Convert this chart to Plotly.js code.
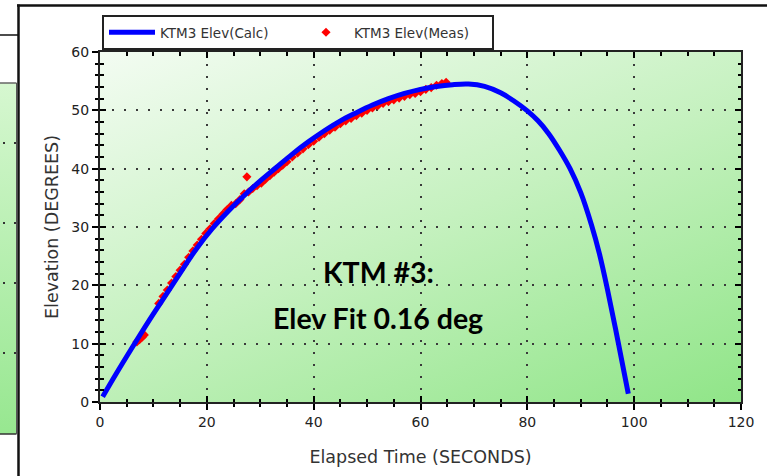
<!DOCTYPE html>
<html>
<head>
<meta charset="utf-8">
<script src="https://cdn.plot.ly/plotly-3.0.1.min.js"></script>
<style>
html,body{margin:0;padding:0;background:#fff;}
#chart{width:767px;height:476px;}
</style>
</head>
<body>
<div id="chart"></div>
<script>
// ---- data ----
const calcName = 'KTM3 Elev(Calc)';
const measName = 'KTM3 Elev(Meas)';

const calcT = [0.5, 3, 6, 9, 12, 15, 18, 21, 24, 27, 30, 33, 36, 39, 42, 45, 48, 51, 54, 57, 60, 63, 66, 69, 72, 75, 77.5, 80, 82, 84, 86, 88, 90, 92, 93.5, 95, 96.5, 98, 98.9];
const calcE = [0.9, 4.8, 9.3, 13.7, 17.9, 22.1, 26.2, 29.7, 32.7, 35.4, 37.9, 40.2, 42.5, 44.6, 46.5, 48.2, 49.6, 50.9, 52.0, 52.9, 53.6, 54.1, 54.4, 54.5, 54.1, 53.0, 51.6, 49.9, 48.2, 46.0, 43.2, 40.0, 35.9, 30.4, 25.4, 19.3, 12.6, 5.6, 1.4];

const measT = [6.9, 7.4, 7.9, 8.3, 11.0, 11.8, 12.6, 13.4, 14.2, 15.0, 15.8, 16.6, 17.4, 18.2, 19.0, 19.8, 20.6, 21.4, 22.2, 23.0, 23.8, 24.6, 25.4, 26.2, 27.0, 27.5, 27.8, 28.6, 29.4, 30.2, 31.0, 31.8, 32.6, 33.4, 34.2, 35.0, 36.0, 37.0, 38.0, 39.0, 40.0, 41.0, 42.0, 43.0, 44.0, 45.0, 46.0, 47.0, 48.0, 49.0, 50.0, 51.0, 52.0, 53.0, 54.0, 55.0, 56.0, 57.0, 58.0, 59.0, 60.0, 61.0, 62.0, 63.0, 64.0, 64.8];
const measE = [10.3, 10.7, 11.1, 11.5, 16.9, 18.1, 19.2, 20.4, 21.5, 22.6, 23.6, 24.8, 25.9, 26.9, 27.9, 28.9, 29.7, 30.6, 31.4, 32.2, 33.0, 33.7, 34.0, 34.7, 35.7, 38.6, 36.0, 36.6, 37.1, 37.5, 38.2, 38.8, 39.4, 40.0, 40.6, 41.2, 42.0, 42.7, 43.4, 44.1, 44.7, 45.4, 46.0, 46.6, 47.1, 47.7, 48.2, 48.6, 49.1, 49.5, 50.0, 50.4, 50.8, 51.2, 51.5, 51.8, 52.1, 52.4, 52.7, 52.9, 53.2, 53.6, 53.9, 54.3, 54.6, 54.8];

const xTitle = 'Elapsed Time (SECONDS)';
const yTitle = 'Elevation (DEGREES)';
const noteLine1 = 'KTM #3:';
const noteLine2 = 'Elev Fit 0.16 deg';

// ---- geometry helpers (page pixels -> paper fractions) ----
const W = 767, H = 476;
const M = {l: 100, r: 26, t: 52, b: 74};
const PW = W - M.l - M.r, PH = H - M.t - M.b;
const PX = p => (p - M.l) / PW;
const PY = p => (H - M.b - p) / PH;

function svgURI(svg){ return 'data:image/svg+xml;charset=utf-8,' + encodeURIComponent(svg); }
const plotBg = svgURI(
  `<svg xmlns='http://www.w3.org/2000/svg' width='${PW}' height='${PH}' viewBox='0 0 ${PW} ${PH}' preserveAspectRatio='none'>` +
  `<defs><linearGradient id='g' gradientUnits='userSpaceOnUse' x1='0' y1='0' x2='209' y2='523'>` +
  `<stop offset='0' stop-color='#f3fcf2'/><stop offset='0.5' stop-color='#c5f1bf'/><stop offset='1' stop-color='#90e588'/>` +
  `</linearGradient></defs><rect width='${PW}' height='${PH}' fill='url(#g)'/></svg>`);
const stripBg = svgURI(
  `<svg xmlns='http://www.w3.org/2000/svg' width='20' height='350' viewBox='0 0 20 350' preserveAspectRatio='none'>` +
  `<defs><linearGradient id='h' x1='0' y1='0' x2='0' y2='1'>` +
  `<stop offset='0' stop-color='#d6f7d0'/><stop offset='1' stop-color='#97e790'/>` +
  `</linearGradient></defs><rect width='20' height='350' fill='url(#h)'/></svg>`);

// measured points on the main axes, calculated curve on the overlay axes (drawn on top)
const measTrace = {
  x: measT, y: measE, name: measName, type: 'scatter', mode: 'markers',
  marker: {symbol: 'diamond', size: 7, color: '#ff0000', line: {width: 0}},
  legendrank: 2
};
const calcTrace = {
  x: calcT, y: calcE, name: calcName, type: 'scatter', mode: 'lines',
  xaxis: 'x2', yaxis: 'y2',
  line: {color: '#0000ff', width: 5, shape: 'spline', smoothing: 1},
  legendrank: 1
};

const tickFont = {family: 'DejaVu Sans, sans-serif', size: 14, color: '#222'};
const titleFont = {family: 'DejaVu Sans, sans-serif', size: 17.5, color: '#333'};
const grid = {showgrid: true, gridcolor: '#3a3a3a', gridwidth: 2, griddash: '2px,10px'};

const layout = {
  width: W, height: H,
  margin: M,
  paper_bgcolor: '#ffffff',
  plot_bgcolor: 'rgba(0,0,0,0)',
  showlegend: true,
  legend: {
    orientation: 'h', x: PX(102), y: PY(15), xanchor: 'left', yanchor: 'top',
    bgcolor: '#ffffff', bordercolor: '#222', borderwidth: 2,
    font: {family: 'DejaVu Sans, sans-serif', size: 13.5, color: '#333'},
    entrywidth: 133, itemwidth: 46, tracegroupgap: 0
  },
  // main axes: labels, grid, outer half of the ticks
  xaxis: Object.assign({
    range: [0, 120], tick0: 0, dtick: 20, ticks: 'outside', ticklen: 6, tickwidth: 2, tickcolor: '#000',
    minor: {dtick: 5, ticks: 'outside', ticklen: 3, tickwidth: 2, tickcolor: '#000', showgrid: false},
    showline: true, linecolor: '#222', linewidth: 2, mirror: true, zeroline: false,
    tickfont: tickFont,
    title: {text: xTitle, font: titleFont, standoff: 22}
  }, grid),
  yaxis: Object.assign({
    range: [0, 60], tick0: 0, dtick: 10, ticks: 'outside', ticklen: 6, tickwidth: 2, tickcolor: '#000',
    minor: {dtick: 2, ticks: 'outside', ticklen: 3.5, tickwidth: 2, tickcolor: '#000', showgrid: false},
    showline: true, linecolor: '#222', linewidth: 2, mirror: true, zeroline: false,
    tickfont: tickFont,
    title: {text: yTitle, font: titleFont, standoff: 8}
  }, grid),
  // overlay axes: same scales, inner half of the ticks on all four sides
  xaxis2: {
    overlaying: 'x', anchor: 'y2', side: 'bottom', range: [0, 120], tick0: 0, dtick: 20,
    ticks: 'inside', ticklen: 6, tickwidth: 2, tickcolor: '#000',
    minor: {dtick: 5, ticks: 'inside', ticklen: 3.5, tickwidth: 2, tickcolor: '#000', showgrid: false},
    showline: true, linecolor: '#222', linewidth: 2, mirror: 'ticks',
    showticklabels: false, showgrid: false, zeroline: false
  },
  yaxis2: {
    overlaying: 'y', anchor: 'x2', side: 'left', range: [0, 60], tick0: 0, dtick: 10,
    ticks: 'inside', ticklen: 6, tickwidth: 2, tickcolor: '#000',
    minor: {dtick: 2, ticks: 'inside', ticklen: 3.5, tickwidth: 2, tickcolor: '#000', showgrid: false},
    showline: true, linecolor: '#222', linewidth: 2, mirror: 'ticks',
    showticklabels: false, showgrid: false, zeroline: false
  },
  images: [
    {source: plotBg, xref: 'paper', yref: 'paper', x: 0, y: 1, sizex: 1, sizey: 1,
     xanchor: 'left', yanchor: 'top', sizing: 'stretch', layer: 'below'},
    {source: stripBg, xref: 'paper', yref: 'paper', x: PX(0), y: PY(83), sizex: PX(16.5) - PX(0), sizey: PY(83) - PY(434),
     xanchor: 'left', yanchor: 'top', sizing: 'stretch', layer: 'below'}
  ],
  shapes: [
    {type: 'line', xref: 'paper', yref: 'paper', x0: PX(17), x1: PX(767), y0: PY(5.5), y1: PY(5.5), line: {color: '#111', width: 2.5}},
    {type: 'line', xref: 'paper', yref: 'paper', x0: PX(18.5), x1: PX(18.5), y0: PY(4.5), y1: PY(480), line: {color: '#111', width: 2.5}},
    {type: 'line', xref: 'paper', yref: 'paper', x0: PX(0), x1: PX(18), y0: PY(35), y1: PY(35), line: {color: '#111', width: 1.5}},
    {type: 'line', xref: 'paper', yref: 'paper', x0: PX(0), x1: PX(16.5), y0: PY(83), y1: PY(83), line: {color: '#666', width: 1.5}},
    {type: 'line', xref: 'paper', yref: 'paper', x0: PX(0), x1: PX(16.5), y0: PY(434), y1: PY(434), line: {color: '#333', width: 1.5}},
    {type: 'line', xref: 'paper', yref: 'paper', x0: PX(16.5), x1: PX(16.5), y0: PY(83), y1: PY(434), line: {color: '#555', width: 1}},
    {type: 'line', xref: 'paper', yref: 'paper', x0: PX(3), x1: PX(16), y0: PY(143), y1: PY(143), line: {color: '#333', width: 2, dash: '2px,9px'}},
    {type: 'line', xref: 'paper', yref: 'paper', x0: PX(3), x1: PX(16), y0: PY(223), y1: PY(223), line: {color: '#333', width: 2, dash: '2px,9px'}},
    {type: 'line', xref: 'paper', yref: 'paper', x0: PX(3), x1: PX(16), y0: PY(283), y1: PY(283), line: {color: '#333', width: 2, dash: '2px,9px'}},
    {type: 'line', xref: 'paper', yref: 'paper', x0: PX(3), x1: PX(16), y0: PY(353), y1: PY(353), line: {color: '#333', width: 2, dash: '2px,9px'}}
  ],
  annotations: [
    {text: '<b>' + noteLine1 + '</b>', xref: 'paper', yref: 'paper', x: PX(378), y: PY(272),
     xanchor: 'center', yanchor: 'middle', showarrow: false,
     font: {family: 'Lato, Open Sans, sans-serif', size: 28.5, color: '#000'}},
    {text: '<b>' + noteLine2 + '</b>', xref: 'paper', yref: 'paper', x: PX(378), y: PY(318),
     xanchor: 'center', yanchor: 'middle', showarrow: false,
     font: {family: 'Lato, Open Sans, sans-serif', size: 28.5, color: '#000'}}
  ]
};

Plotly.newPlot('chart', [measTrace, calcTrace], layout, {displayModeBar: false, staticPlot: true});
</script>
</body>
</html>
